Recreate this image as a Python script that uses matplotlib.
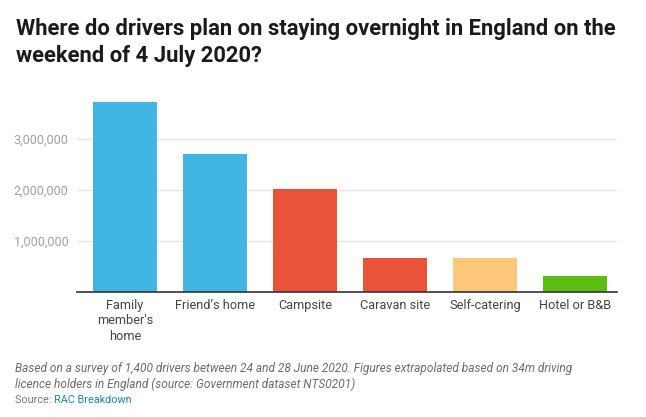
import matplotlib
matplotlib.use("Agg")
import matplotlib.pyplot as plt
from matplotlib.ticker import FuncFormatter

categories = ["Family\nmember's\nhome", "Friend’s home", "Campsite", "Caravan site", "Self-catering", "Hotel or B&B"]
values = [3725000, 2705000, 2020000, 665000, 665000, 315000]
colors = ["#41b5e3", "#41b5e3", "#e8533a", "#e8533a", "#fdc87a", "#5bbd12"]
yticks = [1000000, 2000000, 3000000]

W, H = 646, 417
fig = plt.figure(figsize=(W / 100, H / 100), dpi=100)
plt.rcParams['font.family'] = ['Roboto', 'DejaVu Sans']

ax_left, ax_right, ax_bottom, ax_top = 77, 617, 292, 88
ax = fig.add_axes([ax_left / W, 1 - ax_bottom / H, (ax_right - ax_left) / W, (ax_bottom - ax_top) / H])

x = list(range(len(categories)))
ax.bar(x, values, width=0.711, color=colors, zorder=3)
ax.set_xlim(-0.533, len(categories) - 0.533)
ax.set_ylim(0, 4000000)
ax.set_yticks(yticks)
ax.yaxis.set_major_formatter(FuncFormatter(lambda v, p: f"{int(v):,}"))
ax.grid(axis='y', color='#e6e6e6', linewidth=1, zorder=0)
for s in ['top', 'right', 'left']:
    ax.spines[s].set_visible(False)
ax.spines['bottom'].set_color('#333333')
ax.spines['bottom'].set_linewidth(1.2)
ax.spines['bottom'].set_zorder(4)
ax.set_xticks(x)
ax.set_xticklabels(categories, fontsize=9.2, color='#444444', linespacing=1.25)
ax.tick_params(axis='x', length=0, pad=5)
ax.tick_params(axis='y', length=0, pad=6, labelsize=9.0, labelcolor='#a0a0a0')

def ypx(p):
    return 1 - p / H

fig.text(16 / W, ypx(35), "Where do drivers plan on staying overnight in England on the",
         fontsize=15.8, fontweight='bold', color='#1a1a1a', va='baseline', ha='left')
fig.text(16 / W, ypx(62), "weekend of 4 July 2020?",
         fontsize=15.8, fontweight='bold', color='#1a1a1a', va='baseline', ha='left')

fig.text(15 / W, ypx(372), "Based on a survey of 1,400 drivers between 24 and 28 June 2020. Figures extrapolated based on 34m driving",
         fontsize=8.6, style='italic', color='#6b6b6b', va='baseline', ha='left')
fig.text(15 / W, ypx(388), "licence holders in England (source: Government dataset NTS0201)",
         fontsize=8.6, style='italic', color='#6b6b6b', va='baseline', ha='left')
t = fig.text(15 / W, ypx(403), "Source: ", fontsize=7.8, color='#777777', va='baseline', ha='left')
fig.canvas.draw()
bb = t.get_window_extent()
fig.text(bb.x1 / W, ypx(403), "RAC Breakdown", fontsize=7.8, color='#1f84a8', va='baseline', ha='left')

fig.savefig("out.png", dpi=100)
